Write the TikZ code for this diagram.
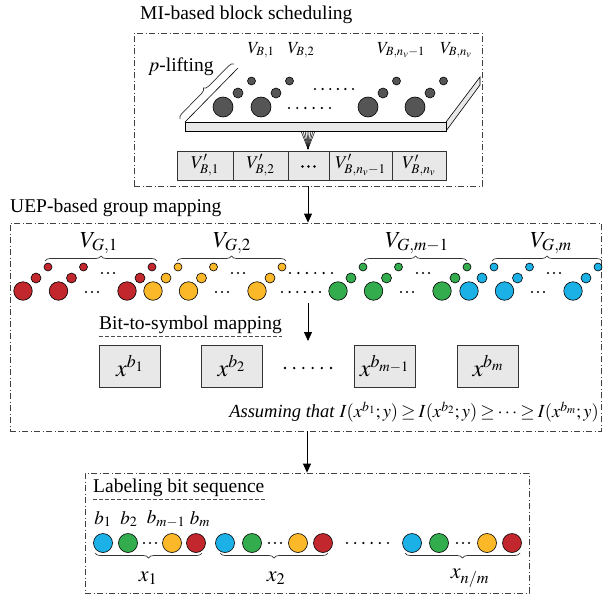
\documentclass[tikz,border=0pt]{standalone}
\usepackage{mathptmx}
\usepackage{fontspec}
\setmainfont{Liberation Serif}
\usetikzlibrary{decorations.pathreplacing,arrows.meta}
\definecolor{cred}{HTML}{C1272D}
\definecolor{cyel}{HTML}{FBB829}
\definecolor{cgrn}{HTML}{33AC4E}
\definecolor{cblu}{HTML}{1BB0E6}
\definecolor{cdark}{HTML}{555555}
\definecolor{cbox}{HTML}{E8E8E8}
\tikzset{
  ddbox/.style={draw=black!75, line width=0.8pt, dash pattern=on 6pt off 2.5pt on 1pt off 2.5pt, inner sep=0pt},
  title/.style={font=\fontsize{19.5}{22}\selectfont, inner sep=0pt, anchor=west},
  arr/.style={-{Triangle[length=9pt,width=8pt]}, line width=0.8pt},
  cell/.style={draw=black!80, fill=cbox, line width=0.7pt, inner sep=0pt},
  bigc/.style={circle, draw=black, line width=0.6pt, minimum size=18.5pt, inner sep=0pt},
  medc/.style={circle, draw=black, line width=0.6pt, minimum size=10pt, inner sep=0pt},
  smlc/.style={circle, draw=black, line width=0.6pt, minimum size=8pt, inner sep=0pt},
  labc/.style={circle, draw=black, line width=0.6pt, minimum size=19pt, inner sep=0pt},
  brc/.style={decorate, decoration={brace, amplitude=5pt}, line width=0.7pt, draw=black!80},
  dotd/.style={fill=black},
  ulined/.style={draw=black!70, line width=0.7pt, dash pattern=on 4pt off 2pt},
  lab/.style={inner sep=0pt}
}
\begin{document}
\begin{tikzpicture}[x=1pt,y=-1pt]
\useasboundingbox (0,0) rectangle (605,597);

% ---------- MI-based block scheduling ----------
\node[title] (t1) at (140,15) {MI-based block scheduling};
\node[ddbox, minimum width=348pt, minimum height=153pt] (mibox) at (308,109.5) {};

% slab
\fill[white] (185,122) -- (238,68) -- (480,77) -- (446,122) -- cycle;
\draw[line width=0.6pt, fill=cbox] (446,122) -- (480,77) -- (480,85) -- (446,131) -- cycle;
\draw[line width=0.6pt, fill=cbox] (185,122) rectangle (446,131);
\draw[line width=0.6pt] (185,122) -- (238,68);
\draw[brc] (180,119) -- (234,64);
\node[lab, anchor=west, font=\fontsize{19.5}{22}\selectfont] (plift) at (148,67) {$p$-lifting};

% circles on slab
\foreach \x/\n in {223/a,261/b,368/c,415/d}{
  \node[bigc, fill=cdark, minimum size=20pt] (s\n1) at (\x,107) {};
  \node[medc, fill=cdark] (s\n2) at (\x+15,93) {};
  \node[smlc, fill=cdark] (s\n3) at (\x+28.5,81) {};
}
\foreach \x in {315,322.6,...,354} \fill[dotd] (\x,89) circle (1.2pt);
\foreach \x in {289,297.2,...,331} \fill[dotd] (\x,108) circle (1.2pt);

\begin{scope}[font=\fontsize{17}{19}\selectfont]
\node[lab] (vb1) at (261,50) {$V_{B,1}$};
\node[lab] (vb2) at (301,50) {$V_{B,2}$};
\node[lab] (vb3) at (401,50) {$V_{B,n_v-1}$};
\node[lab] (vb4) at (456,50) {$V_{B,n_v}$};
\end{scope}

% fan
\coordinate (fantip) at (308,149);
\foreach \x in {301,303,...,316} \draw[line width=0.5pt] (\x,131) -- (fantip);

% V' cells
\begin{scope}[font=\fontsize{18}{20}\selectfont]
\node[cell, minimum width=56pt, minimum height=29pt] (c1) at (205,165.5) {$V'_{B,1}$};
\node[cell, minimum width=55pt, minimum height=29pt] (c2) at (260.5,165.5) {$V'_{B,2}$};
\node[cell, minimum width=41pt, minimum height=29pt] (c3) at (308.5,165.5) {};
\node[cell, minimum width=63pt, minimum height=29pt] (c4) at (360.5,165.5) {$V'_{B,n_v-1}$};
\node[cell, minimum width=54pt, minimum height=29pt] (c5) at (419,165.5) {$V'_{B,n_v}$};
\end{scope}
\foreach \e in {-6,0,6} \fill[dotd] ([xshift=\e pt, yshift=-1pt]c3.center) circle (1.4pt);

% ---------- UEP-based group mapping ----------
\node[title] (t2) at (10,208) {UEP-based group mapping};
\node[ddbox, minimum width=591pt, minimum height=208pt] (uepbox) at (305.5,327) {};
\draw[arr] (mibox.south) -- (mibox.south |- uepbox.north);

\foreach \x/\c/\n in {23/cred/r,153/cyel/y,338/cgrn/g,469/cblu/b}{
  \foreach \d/\k in {0/a,35.5/b,104/c}{
    \node[bigc, fill=\c] (\n\k1) at (\x+\d,291) {};
    \node[medc, fill=\c] (\n\k2) at (\x+\d+13,278) {};
    \node[smlc, fill=\c] (\n\k3) at (\x+\d+25,267) {};
  }
  \foreach \e in {-6,0,6} {
    \fill[dotd] (\x+85+\e,273) circle (1.2pt);
    \fill[dotd] (\x+69+\e,292) circle (1.2pt);
  }
}
\foreach \x in {290,298.4,...,333} \fill[dotd] (\x,273) circle (1.2pt);
\foreach \x in {282,289.6,...,321} \fill[dotd] (\x,292) circle (1.2pt);

\draw[brc] (45,261) -- (157,261);
\draw[brc] (177,261) -- (286,261);
\draw[brc] (364,261) -- (467,261);
\draw[brc] (492,261) -- (602,261);
\begin{scope}[font=\fontsize{23}{26}\selectfont]
\node[lab] (vg1) at (99,243) {$V_{G,1}$};
\node[lab] (vg2) at (232,243) {$V_{G,2}$};
\node[lab] (vg3) at (417,243) {$V_{G,m-1}$};
\node[lab] (vg4) at (551,243) {$V_{G,m}$};
\end{scope}

\coordinate (a2s) at (308,303);
\coordinate (a2e) at (308,341);
\draw[arr] (a2s) -- (a2e);
\node[title] (t3) at (99,325) {Bit-to-symbol mapping};
\draw[ulined] ([yshift=-2pt]t3.south west) -- ([yshift=-2pt]t3.south east);

\begin{scope}[font=\fontsize{24}{26}\selectfont]
\node[cell, minimum width=61pt, minimum height=42pt] (xb1) at (130,366) {$x^{b_1}$};
\node[cell, minimum width=61pt, minimum height=42pt] (xb2) at (231.5,366) {$x^{b_2}$};
\node[cell, minimum width=61pt, minimum height=42pt] (xb3) at (384.5,366) {$x^{b_{m-1}}$};
\node[cell, minimum width=61pt, minimum height=42pt] (xb4) at (488,366) {$x^{b_m}$};
\end{scope}
\foreach \x in {285,294.2,...,332} \fill[dotd] (\x,368) circle (1.3pt);

\node[lab, anchor=east, font=\fontsize{18.5}{22}\selectfont] (assume) at (599,412)
  {\textit{Assuming that} {\thickmuskip=3mu\medmuskip=2mu $I(x^{b_1};y)\ge I(x^{b_2};y)\ge\cdots\ge I(x^{b_m};y)$}};

% ---------- Labeling bit sequence ----------
\node[ddbox, minimum width=444pt, minimum height=120pt] (labbox) at (307,533) {};
\draw[arr] (uepbox.south -| labbox.north) -- (labbox.north);
\node[title] (t4) at (93,488) {Labeling bit sequence};
\draw[ulined] ([yshift=-2pt]t4.south west) -- ([yshift=-2pt]t4.south east);

\foreach \a/\b/\cc/\dd/\n in {103/128/172/196/p,225/252/298/323/q,412/439/487/512/s}{
  \node[labc, fill=cblu] (\n1) at (\a,543) {};
  \node[labc, fill=cgrn] (\n2) at (\b,543) {};
  \node[labc, fill=cyel] (\n3) at (\cc,543) {};
  \node[labc, fill=cred] (\n4) at (\dd,543) {};
  \foreach \e in {-6,0,6} \fill[dotd] ({(\b+\cc)/2+\e},543) circle (1.2pt);
}
\foreach \x in {347,355.2,...,389} \fill[dotd] (\x,543) circle (1.2pt);

\begin{scope}[font=\fontsize{19}{22}\selectfont]
\node[lab] (lb1) at (103,519) {$b_1$};
\node[lab] (lb2) at (129,519) {$b_2$};
\node[lab] (lb3) at (166,519) {$b_{m-1}$};
\node[lab] (lb4) at (200,519) {$b_m$};
\end{scope}

\draw[brc] (202,553) -- (95,553);
\draw[brc] (328,553) -- (220,553);
\draw[brc] (520,553) -- (405,553);
\begin{scope}[font=\fontsize{22}{24}\selectfont]
\node[lab] (x1) at (148,578) {$x_1$};
\node[lab] (x2) at (276,578) {$x_2$};
\node[lab] (x3) at (470,578) {$x_{n/m}$};
\end{scope}
\end{tikzpicture}
\end{document}
